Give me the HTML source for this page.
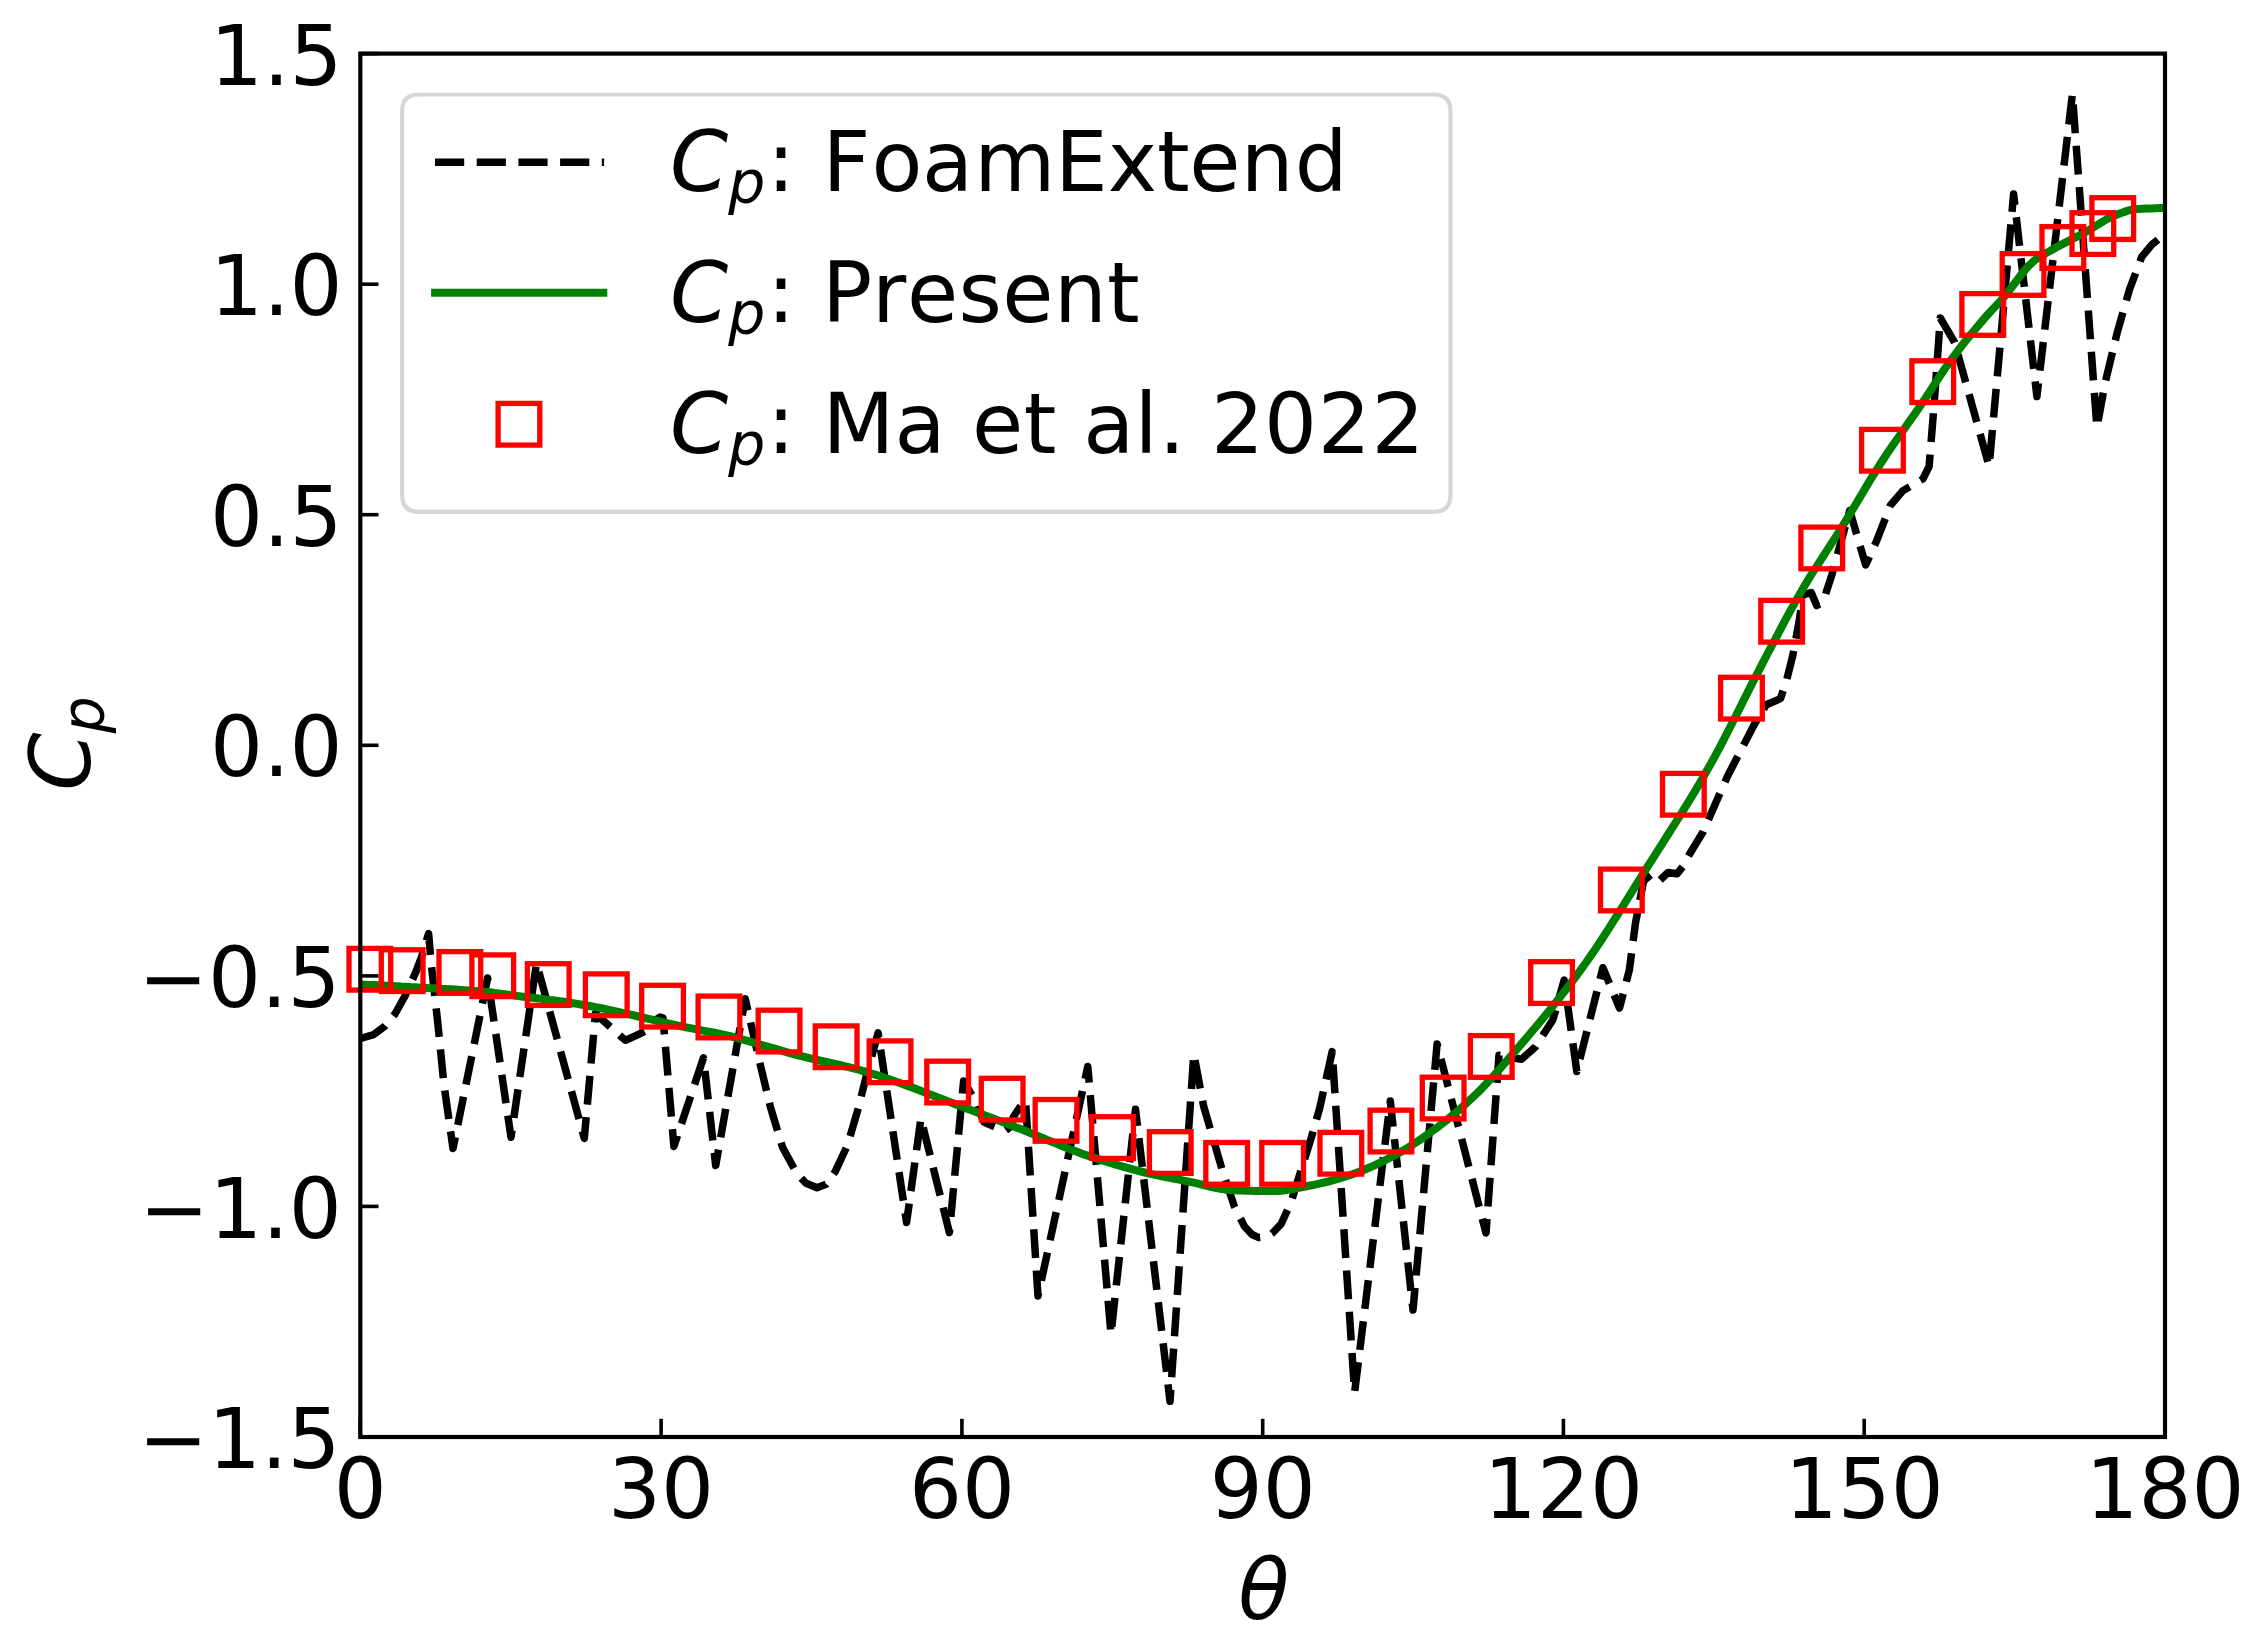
<!DOCTYPE html>
<html lang="en"><head><meta charset="utf-8"><title>Cp vs theta</title>
<style>html,body{margin:0;padding:0;background:#fff}svg{display:block}text{font-family:"DejaVu Sans","Liberation Sans",sans-serif;fill:#000}.it{font-style:italic}</style>
</head><body>
<svg width="2259" height="1642" viewBox="0 0 2259 1642">
<rect x="0" y="0" width="2259" height="1642" fill="#ffffff"/>
<defs><clipPath id="ax"><rect x="360.3" y="53.6" width="1804.7" height="1383.4"/></clipPath></defs>
<g id="curves" clip-path="url(#ax)">
<polyline points="360.3,1038.5 373.7,1034.6 384.8,1026.2 395,1014 405.2,995.7 415.3,973.3 421.5,957 428.6,933.5 431.6,967.2 437.7,1022.2 443.8,1083.3 453,1148.5 487.6,978 511,1137.2 536.5,963.2 584.3,1138.3 595.5,1013.5 600.8,1018.4 611.8,1028.2 622.8,1038.1 625.5,1040.2 635.9,1035.6 649.6,1028.8 655.5,1020 660,1017 663,1017.8 673.9,1146.4 703.5,1057.8 715.7,1165.5 745.2,998.7 760,1063.5 770.2,1106.2 782.4,1147 796.7,1173.4 806,1183.3 817,1187.7 826,1184.3 835.3,1171.4 847.6,1144.9 857.7,1110.3 865.9,1077.7 878.1,1032.9 906.6,1222.5 920.9,1118.5 949.4,1232.5 963.6,1081 970,1092 976.3,1101.7 980,1113 984,1122 994,1126.5 1004.8,1131 1009,1128 1013.6,1116.5 1019.1,1108.2 1025.5,1100.5 1038,1296 1087.8,1066.5 1111,1334.2 1135.5,1109.2 1170,1401.4 1193.8,1054 1203.6,1106.1 1222,1169.2 1234.2,1205.9 1244.3,1226.2 1252,1234.5 1259,1237.6 1266,1237 1272,1233.5 1281,1224.2 1291.2,1201.8 1301.4,1169.2 1311.6,1136.6 1319.7,1108.1 1332.2,1051.6 1354.6,1392.5 1390.3,1101 1413,1310 1437.1,1044 1486,1233 1499,1055.3 1521.5,1059.3 1535.4,1046.9 1552.8,1020 1564.2,980 1576.8,1071.5 1602.9,967.7 1619.5,1008 1629.4,969.7 1635.5,922.9 1643.6,881 1651.5,874 1659.7,880.5 1668,872.5 1677,873.8 1683,866.5 1689,855 1703,832 1719,795.5 1727.6,776 1754,725 1766.2,704.7 1780.5,698.6 1786.6,680.3 1792.7,655.8 1798.8,623.3 1803,595 1811.2,592.5 1816.7,605.5 1823,602 1831.4,576.4 1849.7,510.5 1865.7,565 1876.2,541.8 1890.5,505.2 1902.7,490.9 1923,478.7 1929.1,466.5 1934.2,403.4 1940.3,318 1954.6,342.4 1989.1,466.4 2001.3,332.2 2013.6,194 2036.9,396.5 2072.4,94 2096.9,427.5 2105.1,383 2117.3,332.2 2129.5,289.5 2141.7,256.9 2151.8,244.7 2164.9,234" fill="none" stroke="#000000" stroke-width="7.5" stroke-dasharray="28.8 12.5" stroke-linejoin="round" stroke-linecap="butt"/>
<polyline points="360.4,984.5 364.9,984.7 369.4,984.9 374,985.1 378.5,985.3 383,985.5 387.5,985.8 392.1,986 396.6,986.2 401.1,986.5 405.6,986.7 410.1,987 414.7,987.2 419.2,987.5 423.7,987.7 428.2,988 432.8,988.2 437.3,988.5 441.8,988.8 446.3,989 450.9,989.3 455.4,989.6 459.9,989.9 464.4,990.2 468.9,990.5 473.5,990.9 478,991.2 482.5,991.6 487,992 491.6,992.5 496.1,993.1 500.6,993.7 505.1,994.3 509.6,994.9 514.2,995.5 518.7,996.1 523.2,996.7 527.7,997.2 532.3,997.8 536.8,998.3 541.3,998.9 545.8,999.4 550.3,1000 554.9,1000.5 559.4,1001.1 563.9,1001.8 568.4,1002.5 573,1003.2 577.5,1003.9 582,1004.7 586.5,1005.5 591.1,1006.3 595.6,1007.1 600.1,1008 604.6,1008.9 609.1,1009.8 613.7,1010.8 618.2,1011.8 622.7,1012.8 627.2,1013.9 631.8,1014.9 636.3,1016 640.8,1017 645.3,1018.1 649.8,1019.1 654.4,1020.1 658.9,1021.2 663.4,1022.2 667.9,1023.3 672.5,1024.3 677,1025.3 681.5,1026.3 686,1027.3 690.5,1028.2 695.1,1029.1 699.6,1029.9 704.1,1030.8 708.6,1031.6 713.2,1032.5 717.7,1033.4 722.2,1034.4 726.7,1035.4 731.2,1036.4 735.8,1037.6 740.3,1038.8 744.8,1040.1 749.3,1041.4 753.9,1042.7 758.4,1044 762.9,1045.3 767.4,1046.6 772,1047.8 776.5,1049.1 781,1050.5 785.5,1051.8 790,1053.1 794.6,1054.3 799.1,1055.6 803.6,1056.7 808.1,1057.8 812.7,1058.9 817.2,1060 821.7,1061 826.2,1062 830.7,1063 835.3,1064 839.8,1065 844.3,1066.1 848.8,1067.2 853.4,1068.3 857.9,1069.5 862.4,1070.8 866.9,1072.1 871.4,1073.5 876,1074.9 880.5,1076.3 885,1077.9 889.5,1079.4 894.1,1081 898.6,1082.6 903.1,1084.2 907.6,1085.9 912.2,1087.6 916.7,1089.3 921.2,1091 925.7,1092.8 930.2,1094.5 934.8,1096.3 939.3,1098 943.8,1099.8 948.3,1101.5 952.9,1103.2 957.4,1105 961.9,1106.7 966.4,1108.4 970.9,1110 975.5,1111.7 980,1113.5 984.5,1115.2 989,1116.9 993.6,1118.6 998.1,1120.4 1002.6,1122.1 1007.1,1123.9 1011.6,1125.6 1016.2,1127.4 1020.7,1129.1 1025.2,1130.9 1029.7,1132.7 1034.3,1134.5 1038.8,1136.4 1043.3,1138.3 1047.8,1140.2 1052.4,1142 1056.9,1143.9 1061.4,1145.8 1065.9,1147.6 1070.4,1149.4 1075,1151.1 1079.5,1152.8 1084,1154.4 1088.5,1155.9 1093.1,1157.4 1097.6,1158.9 1102.1,1160.4 1106.6,1161.8 1111.1,1163.2 1115.7,1164.6 1120.2,1165.9 1124.7,1167.2 1129.2,1168.4 1133.8,1169.7 1138.3,1170.9 1142.8,1172 1147.3,1173.1 1151.8,1174.2 1156.4,1175.2 1160.9,1176.1 1165.4,1177 1169.9,1177.9 1174.5,1178.8 1179,1179.7 1183.5,1180.6 1188,1181.5 1192.6,1182.4 1197.1,1183.4 1201.6,1184.5 1206.1,1185.7 1210.6,1186.8 1215.2,1187.8 1219.7,1188.7 1224.2,1189.4 1228.7,1189.9 1233.3,1190.2 1237.8,1190.4 1242.3,1190.5 1246.8,1190.7 1251.3,1190.8 1255.9,1190.9 1260.4,1191 1264.9,1191.1 1269.4,1191.1 1274,1191.1 1278.5,1190.9 1283,1190.4 1287.5,1189.9 1292,1189.1 1296.6,1188.3 1301.1,1187.4 1305.6,1186.5 1310.1,1185.5 1314.7,1184.7 1319.2,1183.7 1323.7,1182.6 1328.2,1181.5 1332.7,1180.3 1337.3,1179 1341.8,1177.6 1346.3,1176.2 1350.8,1174.7 1355.4,1173.2 1359.9,1171.5 1364.4,1169.7 1368.9,1167.8 1373.5,1165.8 1378,1163.7 1382.5,1161.6 1387,1159.3 1391.5,1157 1396.1,1154.6 1400.6,1152 1405.1,1149.4 1409.6,1146.6 1414.2,1143.7 1418.7,1140.6 1423.2,1137.5 1427.7,1134.4 1432.2,1131.1 1436.8,1127.8 1441.3,1124.3 1445.8,1120.8 1450.3,1117.1 1454.9,1113.3 1459.4,1109.4 1463.9,1105.4 1468.4,1101.3 1472.9,1097.1 1477.5,1092.8 1482,1088.3 1486.5,1083.5 1491,1078.6 1495.6,1073.6 1500.1,1068.5 1504.6,1063.3 1509.1,1058.1 1513.7,1052.9 1518.2,1047.7 1522.7,1042.4 1527.2,1037.2 1531.7,1031.8 1536.3,1026.4 1540.8,1021 1545.3,1015.5 1549.8,1009.9 1554.4,1004.3 1558.9,998.6 1563.4,992.8 1567.9,987 1572.4,981 1577,975 1581.5,968.8 1586,962.5 1590.5,956.1 1595.1,949.4 1599.6,942.7 1604.1,935.8 1608.6,928.8 1613.1,921.7 1617.7,914.5 1622.2,907.3 1626.7,900 1631.2,892.8 1635.8,885.5 1640.3,878.3 1644.8,871.1 1649.3,863.9 1653.9,856.8 1658.4,849.7 1662.9,842.6 1667.4,835.5 1671.9,828.4 1676.5,821.2 1681,814 1685.5,806.7 1690,799.3 1694.6,791.8 1699.1,784.2 1703.6,776.4 1708.1,768.6 1712.6,760.5 1717.2,752.1 1721.7,743.6 1726.2,734.8 1730.7,726 1735.3,717 1739.8,708 1744.3,699 1748.8,690 1753.3,681.1 1757.9,672.3 1762.4,663.6 1766.9,655 1771.4,646.4 1776,637.8 1780.5,629.2 1785,620.7 1789.5,612.3 1794.1,604.1 1798.6,596.1 1803.1,588.3 1807.6,580.7 1812.1,573.4 1816.7,566.3 1821.2,559.3 1825.7,552.4 1830.2,545.4 1834.8,538.4 1839.3,531.3 1843.8,524.1 1848.3,516.7 1852.8,509.2 1857.4,501.6 1861.9,494 1866.4,486.4 1870.9,478.9 1875.5,471.6 1880,464.4 1884.5,457.5 1889,450.8 1893.5,444.2 1898.1,437.7 1902.6,431.2 1907.1,424.8 1911.6,418.4 1916.2,411.9 1920.7,405.3 1925.2,398.6 1929.7,391.7 1934.2,384.7 1938.8,377.8 1943.3,371 1947.8,364.4 1952.3,358.2 1956.9,352.2 1961.4,346.3 1965.9,340.6 1970.4,335 1975,329.5 1979.5,324.1 1984,318.8 1988.5,313.8 1993,308.9 1997.6,304.1 2002.1,299.1 2006.6,293.8 2011.1,288 2015.7,282 2020.2,276 2024.7,270.3 2029.2,265.3 2033.7,261.1 2038.3,257.8 2042.8,255 2047.3,252.4 2051.8,249.9 2056.4,247.3 2060.9,244.9 2065.4,242.6 2069.9,240.2 2074.4,237.9 2079,235.6 2083.5,233.2 2088,230.6 2092.5,227.9 2097.1,225.1 2101.6,222.3 2106.1,219.6 2110.6,217.3 2115.2,215.3 2119.7,213.6 2124.2,211.9 2128.7,210.4 2133.2,209.5 2137.8,209.1 2142.3,208.8 2146.8,208.5 2151.3,208.4 2155.9,208.2 2160.4,208.1 2164.9,208.1" fill="none" stroke="#008000" stroke-width="8.0" stroke-linejoin="round" stroke-linecap="square"/>
</g>
<g id="markers" fill="none" stroke="#ff0000" stroke-width="5.3" stroke-linejoin="miter">
<rect x="349" y="948.4" width="41.7" height="41.7"/>
<rect x="381.3" y="949.8" width="41.7" height="41.7"/>
<rect x="439" y="951.6" width="41.7" height="41.7"/>
<rect x="471.9" y="954.9" width="41.7" height="41.7"/>
<rect x="527.4" y="963.7" width="41.7" height="41.7"/>
<rect x="585.4" y="973.9" width="41.7" height="41.7"/>
<rect x="641.7" y="985.3" width="41.7" height="41.7"/>
<rect x="698.1" y="996.1" width="41.7" height="41.7"/>
<rect x="758.2" y="1010.2" width="41.7" height="41.7"/>
<rect x="815.3" y="1025.9" width="41.7" height="41.7"/>
<rect x="869.2" y="1040.9" width="41.7" height="41.7"/>
<rect x="926.8" y="1061.2" width="41.7" height="41.7"/>
<rect x="981.3" y="1078.3" width="41.7" height="41.7"/>
<rect x="1035.2" y="1099.5" width="41.7" height="41.7"/>
<rect x="1091.7" y="1116.7" width="41.7" height="41.7"/>
<rect x="1149.4" y="1131.7" width="41.7" height="41.7"/>
<rect x="1205.8" y="1142.5" width="41.7" height="41.7"/>
<rect x="1261.8" y="1142.5" width="41.7" height="41.7"/>
<rect x="1320" y="1132.4" width="41.7" height="41.7"/>
<rect x="1370.1" y="1110.2" width="41.7" height="41.7"/>
<rect x="1422.3" y="1077.2" width="41.7" height="41.7"/>
<rect x="1470.4" y="1035.6" width="41.7" height="41.7"/>
<rect x="1530.7" y="961.7" width="41.7" height="41.7"/>
<rect x="1600.5" y="869.1" width="41.7" height="41.7"/>
<rect x="1662.5" y="773.4" width="41.7" height="41.7"/>
<rect x="1720.6" y="677.3" width="41.7" height="41.7"/>
<rect x="1760.8" y="600.4" width="41.7" height="41.7"/>
<rect x="1800.9" y="527.1" width="41.7" height="41.7"/>
<rect x="1861.6" y="429.4" width="41.7" height="41.7"/>
<rect x="1911.9" y="360.8" width="41.7" height="41.7"/>
<rect x="1961.9" y="293.6" width="41.7" height="41.7"/>
<rect x="2002.2" y="253.6" width="41.7" height="41.7"/>
<rect x="2042" y="226.6" width="41.7" height="41.7"/>
<rect x="2072" y="212.7" width="41.7" height="41.7"/>
<rect x="2091.9" y="197.7" width="41.7" height="41.7"/>
</g>
<g id="ticks" stroke="#000000" stroke-width="3.6" stroke-linecap="butt">
<line x1="360.3" y1="1437" x2="360.3" y2="1418.8"/>
<line x1="661.1" y1="1437" x2="661.1" y2="1418.8"/>
<line x1="961.9" y1="1437" x2="961.9" y2="1418.8"/>
<line x1="1262.7" y1="1437" x2="1262.7" y2="1418.8"/>
<line x1="1563.4" y1="1437" x2="1563.4" y2="1418.8"/>
<line x1="1864.2" y1="1437" x2="1864.2" y2="1418.8"/>
<line x1="2165" y1="1437" x2="2165" y2="1418.8"/>
<line x1="360.3" y1="1437" x2="378.5" y2="1437"/>
<line x1="360.3" y1="1206.4" x2="378.5" y2="1206.4"/>
<line x1="360.3" y1="975.9" x2="378.5" y2="975.9"/>
<line x1="360.3" y1="745.3" x2="378.5" y2="745.3"/>
<line x1="360.3" y1="514.7" x2="378.5" y2="514.7"/>
<line x1="360.3" y1="284.2" x2="378.5" y2="284.2"/>
<line x1="360.3" y1="53.6" x2="378.5" y2="53.6"/>
</g>
<rect x="360.3" y="53.6" width="1804.7" height="1383.4" fill="none" stroke="#000000" stroke-width="4.17" stroke-linejoin="miter"/>
<g id="labels" font-size="83.33">
<text x="360.3" y="1518.2" text-anchor="middle">0</text>
<text x="661.1" y="1518.2" text-anchor="middle">30</text>
<text x="961.9" y="1518.2" text-anchor="middle">60</text>
<text x="1262.7" y="1518.2" text-anchor="middle">90</text>
<text x="1563.4" y="1518.2" text-anchor="middle">120</text>
<text x="1864.2" y="1518.2" text-anchor="middle">150</text>
<text x="2165" y="1518.2" text-anchor="middle">180</text>
<text x="340.5" y="1468.1" text-anchor="end">−1.5</text>
<text x="341.7" y="1237.5" text-anchor="end">−1.0</text>
<text x="340.5" y="1007" text-anchor="end">−0.5</text>
<text x="342.65" y="776.4" text-anchor="end">0.0</text>
<text x="342.65" y="545.8" text-anchor="end">0.5</text>
<text x="342.65" y="315.3" text-anchor="end">1.0</text>
<text x="342.65" y="84.7" text-anchor="end">1.5</text>
<text class="it" x="1238.3" y="1618.9">θ</text>
<text class="it" transform="translate(90.2,790.7) rotate(-90)"><tspan x="0" y="0">C</tspan><tspan font-size="58.33" x="57.4" dy="13.7">p</tspan></text>
</g>
<path d="M418.8,94.5 L1433.8,94.5 Q1450.5,94.5 1450.5,111.2 L1450.5,495.1 Q1450.5,511.8 1433.8,511.8 L418.8,511.8 Q402.1,511.8 402.1,495.1 L402.1,111.2 Q402.1,94.5 418.8,94.5 Z" fill="#ffffff" fill-opacity="0.8" stroke="#cccccc" stroke-opacity="0.8" stroke-width="4.17" stroke-linejoin="miter"/>
<line x1="435" y1="162.2" x2="604.1" y2="162.2" stroke="#000000" stroke-width="7.5" stroke-dasharray="29.2 12.5"/>
<line x1="435.1" y1="292.8" x2="603.3" y2="292.8" stroke="#008000" stroke-width="8.0" stroke-linecap="square"/>
<rect x="498.1" y="403.4" width="41.7" height="41.7" fill="none" stroke="#ff0000" stroke-width="5.3"/>
<g id="legend-labels" font-size="83.33" style="font-kerning:none">
<text y="191.2" xml:space="preserve"><tspan class="it" x="670.1">C</tspan><tspan class="it" font-size="58.33" x="728.3" dy="11.8">p</tspan><tspan x="766.9 795 822.4 871.5 922.1 974.2 1055.1 1107.8 1156.9 1189.3 1240.7 1294.8" dy="-11.8">: FoamExtend</tspan></text>
<text y="322" xml:space="preserve"><tspan class="it" x="670.1">C</tspan><tspan class="it" font-size="58.33" x="728.3" dy="11.8">p</tspan><tspan x="766.9 795 822 871.9 907 958.5 1002.2 1054.1 1106.9" dy="-11.8">: Present</tspan></text>
<text y="452.7" xml:space="preserve"><tspan class="it" x="670.1">C</tspan><tspan class="it" font-size="58.33" x="728.3" dy="11.8">p</tspan><tspan x="766.9 795 822.5 894.5 945.5 972 1023.8 1056.7 1083.3 1134.6 1158.7 1184.9 1211.1 1264 1317.7 1371.4" dy="-11.8">: Ma et al. 2022</tspan></text>
</g>
</svg></body></html>
